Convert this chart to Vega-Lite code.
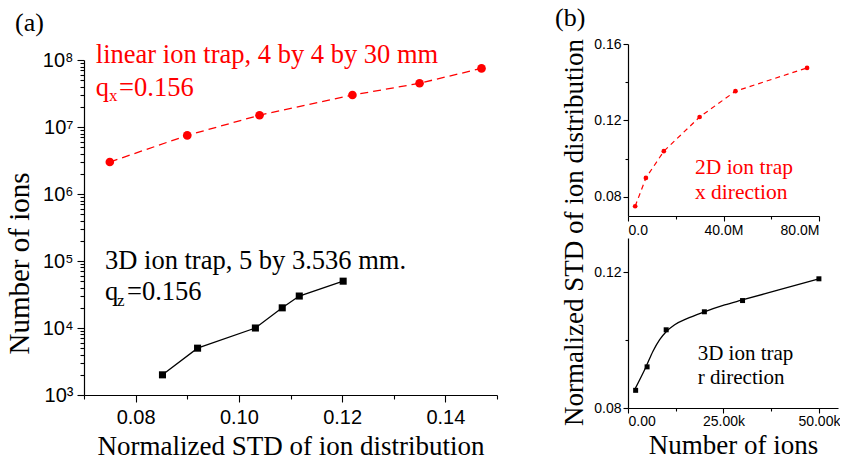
{
  "$schema": "https://vega.github.io/schema/vega-lite/v6.json",
  "background": "white",
  "padding": {"left": 5, "top": 5, "right": 0, "bottom": 0},
  "config": {
    "view": {"stroke": null},
    "axis": {"grid": false, "domainColor": "black", "tickColor": "black", "labelColor": "black", "titleColor": "black", "labelFont": "Liberation Sans", "titleFont": "Liberation Serif", "titleFontWeight": "normal", "domainWidth": 1.2, "tickWidth": 1.1},
    "title": {"font": "Liberation Serif", "fontWeight": "normal", "color": "black"}
  },
  "bounds": "flush",
  "spacing": 131,
  "hconcat": [
    {
      "width": 413,
      "height": 351,
      "title": {"text": "(a)", "anchor": "start", "frame": "group", "dx": -69, "fontSize": 26, "offset": 6},
      "encoding": {
        "x": {"field": "std", "type": "quantitative", "scale": {"domain": [0.07, 0.15], "nice": false, "zero": false},
          "axis": {"title": "Normalized STD of ion distribution", "titleFontSize": 27, "titlePadding": 6, "labelFontSize": 20, "labelPadding": 5,
            "values": [0.07, 0.08, 0.09, 0.10, 0.11, 0.12, 0.13, 0.14, 0.15],
            "labelExpr": "(round(datum.value*100) % 2 == 0 && datum.value > 0.075 && datum.value < 0.145) ? format(datum.value, '.2f') : ''",
            "tickSize": {"condition": {"test": "round(datum.value*100) % 2 == 0", "value": 7}, "value": 4}}},
        "y": {"field": "n", "type": "quantitative", "scale": {"type": "log", "domain": [1000, 173380000], "nice": false},
          "axis": {"title": "Number of ions", "titleFontSize": 29, "titlePadding": 8, "titleY": 219, "labelFontSize": 20, "labelPadding": 4, "domainDash": [335, 100],
            "values": [1000, 2000, 3000, 4000, 5000, 6000, 7000, 8000, 9000, 10000, 20000, 30000, 40000, 50000, 60000, 70000, 80000, 90000, 100000, 200000, 300000, 400000, 500000, 600000, 700000, 800000, 900000, 1000000, 2000000, 3000000, 4000000, 5000000, 6000000, 7000000, 8000000, 9000000, 10000000, 20000000, 30000000, 40000000, 50000000, 60000000, 70000000, 80000000, 90000000, 100000000],
            "labelExpr": "abs(log(datum.value)/LN10 - round(log(datum.value)/LN10)) < 1e-6 ? '10' + ['⁰','¹','²','³','⁴','⁵','⁶','⁷','⁸','⁹'][round(log(datum.value)/LN10)] : ''",
            "tickSize": {"condition": {"test": "abs(log(datum.value)/LN10 - round(log(datum.value)/LN10)) < 1e-6", "value": 7}, "value": 4}}}
      },
      "layer": [
        {
          "data": {"values": [
            {"std": 0.075, "n": 3000000}, {"std": 0.090, "n": 7500000}, {"std": 0.104, "n": 15000000},
            {"std": 0.122, "n": 30000000}, {"std": 0.135, "n": 45000000}, {"std": 0.147, "n": 75000000}
          ]},
          "layer": [
            {"mark": {"type": "line", "color": "#ff0000", "strokeDash": [8, 5], "strokeWidth": 1.3}},
            {"mark": {"type": "point", "shape": "circle", "filled": true, "color": "#ff0000", "size": 75, "opacity": 1}}
          ]
        },
        {
          "data": {"values": [
            {"std": 0.0852, "n": 2000}, {"std": 0.0920, "n": 5000}, {"std": 0.1032, "n": 10000},
            {"std": 0.1084, "n": 20000}, {"std": 0.1117, "n": 30000}, {"std": 0.1202, "n": 50000}
          ]},
          "layer": [
            {"mark": {"type": "line", "color": "black", "strokeWidth": 1.3}},
            {"mark": {"type": "point", "shape": "square", "filled": true, "color": "black", "size": 50, "opacity": 1}}
          ]
        },
        {
          "data": {"values": [
            {"std": 0.0723, "n": 89300000, "label": "linear ion trap, 4 by 4 by 30 mm"},
            {"std": 0.0723, "n": 29000000, "label": "q"},
            {"std": 0.0768, "n": 29000000, "label": "=0.156"}
          ]},
          "mark": {"type": "text", "align": "left", "baseline": "alphabetic", "font": "Liberation Serif", "fontSize": 26.5, "color": "#ff0000"},
          "encoding": {"text": {"field": "label"}}
        },
        {
          "data": {"values": [{"std": 0.07484, "n": 24400000, "label": "x"}]},
          "mark": {"type": "text", "align": "left", "baseline": "alphabetic", "font": "Liberation Serif", "fontSize": 17, "color": "#ff0000"},
          "encoding": {"text": {"field": "label"}}
        },
        {
          "data": {"values": [
            {"std": 0.07407, "n": 75200, "label": "3D ion trap, 5 by 3.536 mm."},
            {"std": 0.07407, "n": 26200, "label": "q"},
            {"std": 0.07833, "n": 26200, "label": "=0.156"}
          ]},
          "mark": {"type": "text", "align": "left", "baseline": "alphabetic", "font": "Liberation Serif", "fontSize": 26.5, "color": "black"},
          "encoding": {"text": {"field": "label"}}
        },
        {
          "data": {"values": [{"std": 0.07639, "n": 21300, "label": "z"}]},
          "mark": {"type": "text", "align": "left", "baseline": "alphabetic", "font": "Liberation Serif", "fontSize": 17, "color": "black"},
          "encoding": {"text": {"field": "label"}}
        }
      ]
    },
    {
      "bounds": "flush",
      "spacing": 22,
      "vconcat": [
        {
          "width": 191,
          "height": 172,
          "title": {"text": "(b)", "anchor": "start", "frame": "group", "dx": -73, "fontSize": 26, "offset": 6},
          "encoding": {
            "x": {"field": "ions", "type": "quantitative", "scale": {"domain": [0, 80000000], "nice": false},
              "axis": {"title": null, "labelFontSize": 14, "labelPadding": 2, "values": [0, 20000000, 40000000, 60000000, 80000000],
                "labelExpr": "datum.value % 40000000 == 0 ? (datum.value == 0 ? '0.0' : format(datum.value/1000000, '.1f') + 'M') : ''",
                "tickSize": {"condition": {"test": "datum.value % 40000000 == 0", "value": 5}, "value": 3}}},
            "y": {"field": "std", "type": "quantitative", "scale": {"domain": [0.07, 0.16], "nice": false, "zero": false},
              "axis": {"title": null, "labelFontSize": 14, "labelPadding": 2, "values": [0.08, 0.10, 0.12, 0.14, 0.16],
                "labelExpr": "abs(datum.value*25 - round(datum.value*25)) < 1e-6 ? format(datum.value, '.2f') : ''",
                "tickSize": {"condition": {"test": "abs(datum.value*25 - round(datum.value*25)) < 1e-6", "value": 5}, "value": 3}}}
          },
          "layer": [
            {
              "data": {"values": [
                {"ions": 3000000, "std": 0.0751}, {"ions": 7500000, "std": 0.0899}, {"ions": 15000000, "std": 0.1039},
                {"ions": 30000000, "std": 0.1218}, {"ions": 45000000, "std": 0.1353}, {"ions": 75000000, "std": 0.1475}
              ]},
              "layer": [
                {"mark": {"type": "line", "color": "#ff0000", "strokeDash": [5, 4], "strokeWidth": 1.2}},
                {"mark": {"type": "point", "shape": "circle", "filled": true, "color": "#ff0000", "size": 22, "opacity": 1}}
              ]
            },
            {
              "data": {"values": [
                {"ions": 28060000, "std": 0.0920, "label": "2D ion trap"},
                {"ions": 28060000, "std": 0.0789, "label": "x direction"}
              ]},
              "mark": {"type": "text", "align": "left", "baseline": "alphabetic", "font": "Liberation Serif", "fontSize": 21.5, "color": "#ff0000"},
              "encoding": {"text": {"field": "label"}}
            }
          ]
        },
        {
          "width": 210,
          "height": 170,
          "encoding": {
            "x": {"field": "ions", "type": "quantitative", "scale": {"domain": [0, 55000], "nice": false},
              "axis": {"title": "Number of ions", "titleFontSize": 27, "titlePadding": 4, "labelFontSize": 14, "labelPadding": 1, "values": [0, 12500, 25000, 37500, 50000],
                "labelExpr": "datum.value % 25000 == 0 ? format(datum.value/1000, '.2f') + (datum.value == 0 ? '' : 'k') : ''",
                "tickSize": {"condition": {"test": "datum.value % 25000 == 0", "value": 5}, "value": 3}}},
            "y": {"field": "std", "type": "quantitative", "scale": {"domain": [0.08, 0.13], "nice": false, "zero": false},
              "axis": {"title": "Normalized STD of ion distribution", "titleFontSize": 27, "titleY": -6, "titleX": -40, "labelFontSize": 14, "labelPadding": 2, "values": [0.08, 0.10, 0.12],
                "labelExpr": "abs(datum.value*25 - round(datum.value*25)) < 1e-6 ? format(datum.value, '.2f') : ''",
                "tickSize": {"condition": {"test": "abs(datum.value*25 - round(datum.value*25)) < 1e-6", "value": 5}, "value": 3}}}
          },
          "layer": [
            {
              "data": {"values": [
                {"ions": 1754, "std": 0.0854}, {"ions": 4634, "std": 0.0919}, {"ions": 6545, "std": 0.0967},
                {"ions": 8298, "std": 0.1001}, {"ions": 10052, "std": 0.1025}, {"ions": 12225, "std": 0.1045},
                {"ions": 15288, "std": 0.1062}, {"ions": 19817, "std": 0.1082}, {"ions": 25314, "std": 0.1103},
                {"ions": 29686, "std": 0.1117}, {"ions": 39712, "std": 0.1148}, {"ions": 50000, "std": 0.1180}
              ]},
              "mark": {"type": "line", "color": "black", "strokeWidth": 1.3, "interpolate": "monotone"}
            },
            {
              "data": {"values": [
                {"ions": 2000, "std": 0.0852}, {"ions": 5000, "std": 0.0921}, {"ions": 10000, "std": 0.1030},
                {"ions": 20000, "std": 0.1083}, {"ions": 30000, "std": 0.1116}, {"ions": 50000, "std": 0.1180}
              ]},
              "mark": {"type": "point", "shape": "square", "filled": true, "color": "black", "size": 25, "opacity": 1}
            },
            {
              "data": {"values": [
                {"ions": 18246, "std": 0.0942, "label": "3D ion trap"},
                {"ions": 18246, "std": 0.08715, "label": "r direction"}
              ]},
              "mark": {"type": "text", "align": "left", "baseline": "alphabetic", "font": "Liberation Serif", "fontSize": 21, "color": "black"},
              "encoding": {"text": {"field": "label"}}
            }
          ]
        }
      ]
    }
  ]
}
